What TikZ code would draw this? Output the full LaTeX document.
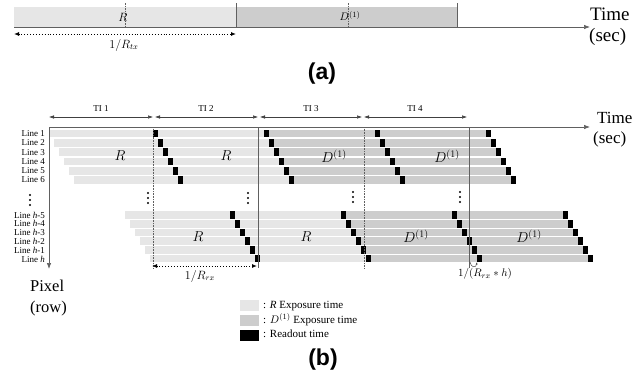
\documentclass[tikz,border=0pt]{standalone}
\usepackage{fontspec}
\setmainfont{Liberation Serif}
\newfontfamily\tagfont{Liberation Sans}
\usetikzlibrary{arrows.meta}
\definecolor{rgray}{HTML}{E6E6E6}
\definecolor{dgray}{HTML}{CDCDCD}
\definecolor{axisgray}{HTML}{606060}
\tikzset{
  axisline/.style={draw=axisgray, line width=0.7pt, -{Latex[length=6pt,width=4.5pt]}},
  tiarrow/.style={draw=black!75, line width=0.5pt, {Latex[length=5pt,width=3.5pt]}-{Latex[length=5pt,width=3.5pt]}},
  dotarrow/.style={draw=black, line width=0.9pt, dotted, {Latex[length=5pt,width=4pt]}-{Latex[length=5pt,width=4pt]}},
  vsolid/.style={draw=axisgray, line width=0.6pt},
  vdotted/.style={draw=axisgray, line width=0.6pt, densely dotted},
  vdashed/.style={draw=axisgray, line width=0.5pt, dash pattern=on 1.5pt off 1pt},
  linelab/.style={font=\fontsize{9}{10}\selectfont, anchor=east, inner sep=0pt},
  tilab/.style={font=\fontsize{9}{10}\selectfont, anchor=base, inner sep=0pt},
  mathlab/.style={font=\fontsize{14}{15}\selectfont, inner sep=0pt},
  smallmath/.style={font=\fontsize{11.5}{12}\selectfont, inner sep=0pt},
  timelab/.style={anchor=base west, inner sep=0pt},
  tagl/.style={font=\tagfont\bfseries\fontsize{23}{26}\selectfont, inner sep=0pt},
  legtext/.style={font=\fontsize{11}{12}\selectfont, anchor=base west, inner sep=0pt},
  vdot/.style={fill=black, radius=1.1pt},
}
\begin{document}
\begin{tikzpicture}[x=1pt,y=-1pt]
\useasboundingbox (0,0) rectangle (643,388);
% ---------------- (a) ----------------
\fill[rgray] (14,7) rectangle (236,27);
\fill[dgray] (236,7) rectangle (457,27);
\coordinate (aO) at (14,27);
\coordinate (aT) at (590,27);
\draw[axisline] (aO) -- (aT);
\coordinate (aB1t) at (236,3); \coordinate (aB1b) at (236,27);
\coordinate (aB2t) at (457,3); \coordinate (aB2b) at (457,27);
\draw[vsolid] (aB1t) -- (aB1b);
\draw[vsolid] (aB2t) -- (aB2b);
\coordinate (aM1t) at (125,3); \coordinate (aM1b) at (125,27);
\coordinate (aM2t) at (348,3); \coordinate (aM2b) at (348,27);
\draw[vdashed] (aM1t) -- (aM1b);
\draw[vdashed] (aM2t) -- (aM2b);
\node[smallmath] (aR) at (123,17) {$R$};
\node[smallmath, font=\fontsize{11}{12}\selectfont] (aD) at (350,16) {$D^{(1)}$};
\coordinate (aL) at (14,34); \coordinate (aRr) at (236,34);
\draw[dotarrow] (aL) -- (aRr);
\node[smallmath] (atx) at (124,45) {$1/R_{tx}$};
\node[timelab, font=\fontsize{19}{22}\selectfont] (aTime) at (590,20) {Time};
\node[timelab, font=\fontsize{19}{22}\selectfont] (aSec) at (589,41) {(sec)};
\node[tagl] (tagA) at (322,74) {(a)};
% ---------------- (b) ----------------
% TI arrows
\foreach \n/\xa/\xb/\xc in {1/49/153/101, 2/155/258/206, 3/260/362/311, 4/364/467/415}{
  \coordinate (ti\n a) at (\xa,117);
  \coordinate (ti\n b) at (\xb,117);
  \draw[tiarrow] (ti\n a) -- (ti\n b);
  \node[tilab] (til\n) at (\xc,111) {TI \n};
}
% top block rows
\foreach \k in {0,...,5}{
  \begin{scope}[shift={(5*\k,9.3*\k)}]
    \fill[rgray] (49,129.7) rectangle (269,137.3);
    \fill[dgray] (269,129.7) rectangle (491,137.3);
    \foreach \xr in {153,264,375,486}{
      \fill[black] (\xr,129.7) rectangle (\xr+5,137.3);
    }
  \end{scope}
}
\foreach \k in {0,...,5}{
  \pgfmathsetmacro\yy{133.5+9.3*\k}
  \pgfmathtruncatemacro\nn{\k+1}
  \node[linelab] (lt\nn) at (45,\yy) {Line \nn};
}
% bottom block rows
\foreach \k in {0,...,5}{
  \begin{scope}[shift={(5*\k,8.7*\k)}]
    \fill[rgray] (125,211.2) rectangle (346,218.8);
    \fill[dgray] (346,211.2) rectangle (568,218.8);
    \foreach \xr in {230,341,452,563}{
      \fill[black] (\xr,211.2) rectangle (\xr+5,218.8);
    }
  \end{scope}
}
\foreach \k/\lab in {0/5,1/4,2/3,3/2,4/1}{
  \pgfmathsetmacro\yy{215+8.9*\k}
  \node[linelab] (lb\k) at (45,\yy) {Line \textit{h}-\lab};
}
\node[linelab] (lb5) at (45,259.5) {Line \textit{h}};
% axes
\coordinate (bO) at (49,127);
\coordinate (bT) at (590,127);
\coordinate (bP) at (49,269);
\draw[axisline] (bO) -- (bT);
\draw[axisline] (bO) -- (bP);
\node[timelab, font=\fontsize{17}{20}\selectfont] (bTime) at (597,123) {Time};
\node[timelab, font=\fontsize{17}{20}\selectfont] (bSec) at (593,143) {(sec)};
\node[timelab, font=\fontsize{16.5}{20}\selectfont] (bPix) at (30,291) {Pixel};
\node[timelab, font=\fontsize{16.5}{20}\selectfont] (bRow) at (30,312) {(row)};
% vertical lines
\foreach \n/\x/\st in {1/153/vdotted,2/258/vsolid,3/364/vdotted,4/469/vsolid}{
  \coordinate (v\n t) at (\x,127);
  \coordinate (v\n b) at (\x,268);
  \draw[\st] (v\n t) -- (v\n b);
}
% vertical dots
\foreach \x/\y in {30/195,148/193,248/193,353/192,460/192}{
  \fill[black] (\x,\y) circle[vdot];
  \fill[black] (\x,\y+5) circle[vdot];
  \fill[black] (\x,\y+10) circle[vdot];
}
% labels in bars
\node[mathlab] (bR1) at (120,156) {$R$};
\node[mathlab] (bR2) at (226,156) {$R$};
\node[mathlab] (bD1) at (334,156) {$D^{(1)}$};
\node[mathlab] (bD2) at (447,156) {$D^{(1)}$};
\node[mathlab] (bR3) at (198,237) {$R$};
\node[mathlab] (bR4) at (306,237) {$R$};
\node[mathlab] (bD3) at (416,236) {$D^{(1)}$};
\node[mathlab] (bD4) at (529,236) {$D^{(1)}$};
% 1/R_rx arrow
\coordinate (rxL) at (152,266); \coordinate (rxR) at (257,266);
\draw[dotarrow] (rxL) -- (rxR);
\node[smallmath, font=\fontsize{11.5}{12}\selectfont] (rxlab) at (200,276) {$1/R_{rx}$};
% small arc
\coordinate (arcA) at (470,262);
\coordinate (arcB) at (477,262);
\draw[black!70, line width=0.5pt, -{Latex[length=2.5pt,width=2pt]}] (arcA) .. controls (471,268) and (476,268) .. (arcB);
\node[smallmath, font=\fontsize{11}{12}\selectfont] (rxh) at (485,274) {$1/(R_{rx}*h)$};
% legend
\fill[rgray] (240,300) rectangle (259,311);
\fill[dgray] (240,315) rectangle (259,326);
\fill[black] (240,330) rectangle (259,341);
\node[legtext] (leg1) at (263,308) {: \textit{R} Exposure time};
\node[legtext] (leg2) at (263,323) {: $D^{(1)}$ Exposure time};
\node[legtext] (leg3) at (263,337) {: Readout time};
\node[tagl] (tagB) at (323,360) {(b)};
\end{tikzpicture}
\end{document}
